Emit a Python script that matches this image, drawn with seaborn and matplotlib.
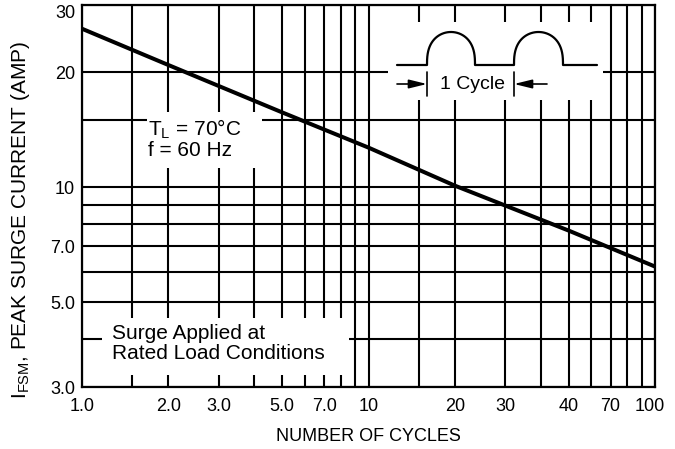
import numpy as np
import pandas as pd
import matplotlib
matplotlib.use('Agg')
import matplotlib.pyplot as plt
import matplotlib.transforms as mtransforms
import seaborn as sns
from matplotlib.patches import Rectangle

# ---- data ----
cycles = [1, 2, 5, 10, 20, 50, 100]
surge_amp = [26.0, 20.9, 15.7, 12.7, 10.1, 7.7, 6.2]

x_grid = [1, 1.5, 2, 3, 4, 5, 6, 7, 8, 9, 10, 15, 20, 30, 40, 50, 60, 70, 80, 90, 100]
x_tick_labels = ['1.0', '', '2.0', '3.0', '', '5.0', '', '7.0', '', '', '10',
                 '', '20', '30', '', '40', '', '70', '', '', '100']
y_grid = [3, 4, 5, 6, 7, 8, 9, 10, 15, 20, 30]
y_tick_labels = ['3.0', '', '5.0', '', '7.0', '', '', '10', '', '20', '30']

sns.set_theme(style='white')
regular = 'Liberation Sans'
plt.rcParams['font.family'] = [regular, 'DejaVu Sans']
plt.rcParams['mathtext.fontset'] = 'custom'
plt.rcParams['mathtext.rm'] = regular

df = pd.DataFrame({'cycles': cycles, 'amp': surge_amp})

fig = plt.figure(figsize=(6.75, 4.49), dpi=100)
ax = fig.add_axes([82/675, 1-387/449, 573/675, 382/449])

sns.lineplot(data=df, x='cycles', y='amp', ax=ax, color='black', linewidth=2.9, zorder=4)
ax.set_xscale('log')
ax.set_yscale('log')
ax.set_xlim(1, 100)
ax.set_ylim(3, 30)

ax.set_xticks(x_grid)
ax.set_xticklabels(x_tick_labels, fontsize=13)
ax.set_yticks(y_grid)
ax.set_yticklabels(y_tick_labels, fontsize=13)
ax.minorticks_off()
ax.tick_params(axis='both', length=0, colors='black')
ax.tick_params(axis='x', pad=8)
ax.tick_params(axis='y', pad=5)
ax.grid(True, which='major', color='black', linewidth=1.5)
ax.set_axisbelow(True)
for s in ax.spines.values():
    s.set_color('black')
    s.set_linewidth(1.6)
    s.set_visible(True)

ax.set_xlabel('NUMBER OF CYCLES', fontsize=13, color='black', labelpad=9)
ax.set_ylabel(r'I$_\mathdefault{FSM}$, PEAK SURGE CURRENT (AMP)', fontsize=15, color='black')
ax.yaxis.set_label_coords(-0.088, 0.437)

# white boxes behind annotations
ax.add_patch(Rectangle((0.113, 0.573), 0.201, 0.147, transform=ax.transAxes,
                       facecolor='white', edgecolor='none', zorder=2))
ax.add_patch(Rectangle((0.035, 0.031), 0.431, 0.150, transform=ax.transAxes,
                       facecolor='white', edgecolor='none', zorder=2))

ax.text(0.115, 0.705, 'T$_\\mathdefault{L}$ = 70°C\nf = 60 Hz', transform=ax.transAxes,
        ha='left', va='top', fontsize=15, color='black', linespacing=1.0, zorder=3)
ax.text(0.052, 0.165, 'Surge Applied at\nRated Load Conditions', transform=ax.transAxes,
        ha='left', va='top', fontsize=15, color='black', linespacing=1.05, zorder=3)

# waveform inset
axi = ax.inset_axes([(388-82)/573, (387-100)/382, (603-388)/573, (100-22)/382])
axi.set_facecolor('white')
for s in axi.spines.values():
    s.set_visible(False)
axi.set_xticks([]); axi.set_yticks([])
axi.set_xlim(388, 603)
axi.set_ylim(100, 22)
base = 65
def hump(x0, x1, h):
    t = np.linspace(0, np.pi, 80)
    xs = (x0 + x1) / 2 - (x1 - x0) / 2 * np.cos(t)
    ys = base - h * np.sin(t) ** 0.75
    return xs, ys
h1 = hump(427, 475, 33)
h2 = hump(514, 563, 33)
wx = np.concatenate([[397], h1[0], h2[0], [597]])
wy = np.concatenate([[base], h1[1], h2[1], [base]])
axi.plot(wx, wy, color='black', lw=1.6, solid_joinstyle='round')
for xb in (427, 514):
    axi.plot([xb, xb], [72, 96], color='black', lw=1.2)
ap = dict(arrowstyle='-|>,head_length=0.9,head_width=0.22', color='black', lw=1.2,
          shrinkA=0, shrinkB=0)
axi.annotate('', xy=(427, 84), xytext=(397, 84), arrowprops=ap)
axi.annotate('', xy=(514, 84), xytext=(547, 84), arrowprops=ap)
axi.text(473, 85, '1 Cycle', ha='center', va='center', fontsize=14, color='black')

# small label placement tweaks as in the reference
ylabs = ax.get_yticklabels()
ylabs[-1].set_va('top')
xlabs = ax.get_xticklabels()
xlabs[-1].set_transform(xlabs[-1].get_transform() +
                        mtransforms.ScaledTranslation(-5/100, 0, fig.dpi_scale_trans))

fig.savefig('out.png', dpi=100)
